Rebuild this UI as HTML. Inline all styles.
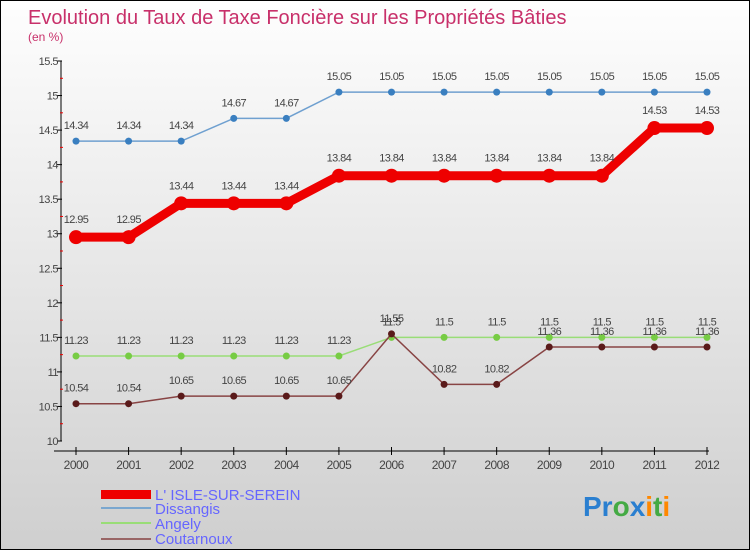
<!DOCTYPE html>
<html><head><meta charset="utf-8"><style>
body{margin:0;width:750px;height:550px;overflow:hidden}
#c{position:absolute;left:0;top:0;width:748px;height:548px;border:1px solid #000;background:linear-gradient(#fefefe,#cfcfcf)}
text{font-family:"Liberation Sans",sans-serif}
</style></head><body>
<div id="c">
<svg id="s" width="750" height="550">
<text x="27" y="23" font-size="20" fill="#c8306a">Evolution du Taux de Taxe Foncière sur les Propriétés Bâties</text>
<text x="27" y="40" font-size="12" fill="#c8306a">(en %)</text>
<line x1="60" y1="60" x2="60" y2="440" stroke="#000"/>
<line x1="53" y1="450" x2="708" y2="450" stroke="#000"/>
<g id="ax"></g><g id="ser"></g>
<g font-size="15" fill="#6666ff">
<rect x="100" y="489" width="50" height="9" fill="#e00"/>
<text x="154" y="499" fill="#6666ff">L' ISLE-SUR-SEREIN</text>
<line x1="100" y1="507" x2="150" y2="507" stroke="#7ba7cf" stroke-width="2"/>
<text x="154" y="513" fill="#6666ff">Dissangis</text>
<line x1="100" y1="522" x2="150" y2="522" stroke="#99dd77" stroke-width="2"/>
<text x="154" y="528" fill="#6666ff">Angely</text>
<line x1="100" y1="538" x2="150" y2="538" stroke="#996666" stroke-width="2"/>
<text x="154" y="543" fill="#6666ff">Coutarnoux</text>
</g>
<text x="582" y="515" font-size="28" font-weight="bold"><tspan fill="#2a7fd0">Pr</tspan><tspan fill="#4a4">o</tspan><tspan fill="#2a7fd0">x</tspan><tspan fill="#f80">i</tspan><tspan fill="#4a4">t</tspan><tspan fill="#f80">i</tspan></text>
</svg></div>
<script>
const years=[2000,2001,2002,2003,2004,2005,2006,2007,2008,2009,2010,2011,2012];
const isle=[12.95,12.95,13.44,13.44,13.44,13.84,13.84,13.84,13.84,13.84,13.84,14.53,14.53];
const dissangis=[14.34,14.34,14.34,14.67,14.67,15.05,15.05,15.05,15.05,15.05,15.05,15.05,15.05];
const angely=[11.23,11.23,11.23,11.23,11.23,11.23,11.5,11.5,11.5,11.5,11.5,11.5,11.5];
const coutarnoux=[10.54,10.54,10.65,10.65,10.65,10.65,11.55,10.82,10.82,11.36,11.36,11.36,11.36];
const yTicks=[10,10.5,11,11.5,12,12.5,13,13.5,14,14.5,15,15.5];
const NS="http://www.w3.org/2000/svg";
function X(i){return 75+i*(706-75)/(years.length-1);}
function Y(v){return 440-(v-10)*(380/5.5);}
function mk(t,a,p){const e=document.createElementNS(NS,t);for(const k in a)e.setAttribute(k,a[k]);p.appendChild(e);return e;}
const ax=document.getElementById('ax');
yTicks.forEach(v=>{
 const l=mk('line',{x1:56,x2:61,y1:Y(v),y2:Y(v),stroke:'#000'},ax);
 
 
 const t=mk('text',{x:57,y:Y(v)+4,'font-size':11,fill:'#444','text-anchor':'end','letter-spacing':'-0.5'},ax);
 t.textContent=String(v);
 
 
 if(v<15.5){const r=mk('line',{x1:59,x2:62,y1:Y(v+0.25),y2:Y(v+0.25),stroke:'#e00'},ax);
 
 }
});
years.forEach((yr,i)=>{
 const l=mk('line',{x1:X(i),x2:X(i),y1:446,y2:454,stroke:'#000'},ax);
 
 
 const t=mk('text',{x:X(i),y:468,'font-size':12,fill:'#444','text-anchor':'middle','letter-spacing':'-0.5'},ax);
 t.textContent=yr;
 
 
});
const ser=document.getElementById('ser');
function draw(d,name,col,w,r,dot,lab){
 const g=mk('g',{},ser);
 
 
 const p=mk('polyline',{points:d.map((v,i)=>X(i)+','+Y(v)).join(' '),fill:'none',stroke:col,'stroke-width':w},g);
 
 
 d.forEach((v,i)=>{
  const c=mk('circle',{cx:X(i),cy:Y(v),r:r,fill:dot},g);
  
  
  const t=mk('text',{x:X(i),y:Y(v)-lab,'font-size':11,fill:'#444','text-anchor':'middle','letter-spacing':'-0.6'},g);
  t.textContent=String(v);
  
  
 });
}
draw(dissangis,'dissangis','#6fa0d0',1.5,3.5,'#3a7fc0',12);
draw(angely,'angely','#99dd77',1.5,3.5,'#77cc44',12);
draw(coutarnoux,'coutarnoux','#884444',1.5,3.5,'#5a1a1a',12);
draw(isle,'isle','#ee0000',9,7,'#ee0000',14);
</script>
</body></html>
